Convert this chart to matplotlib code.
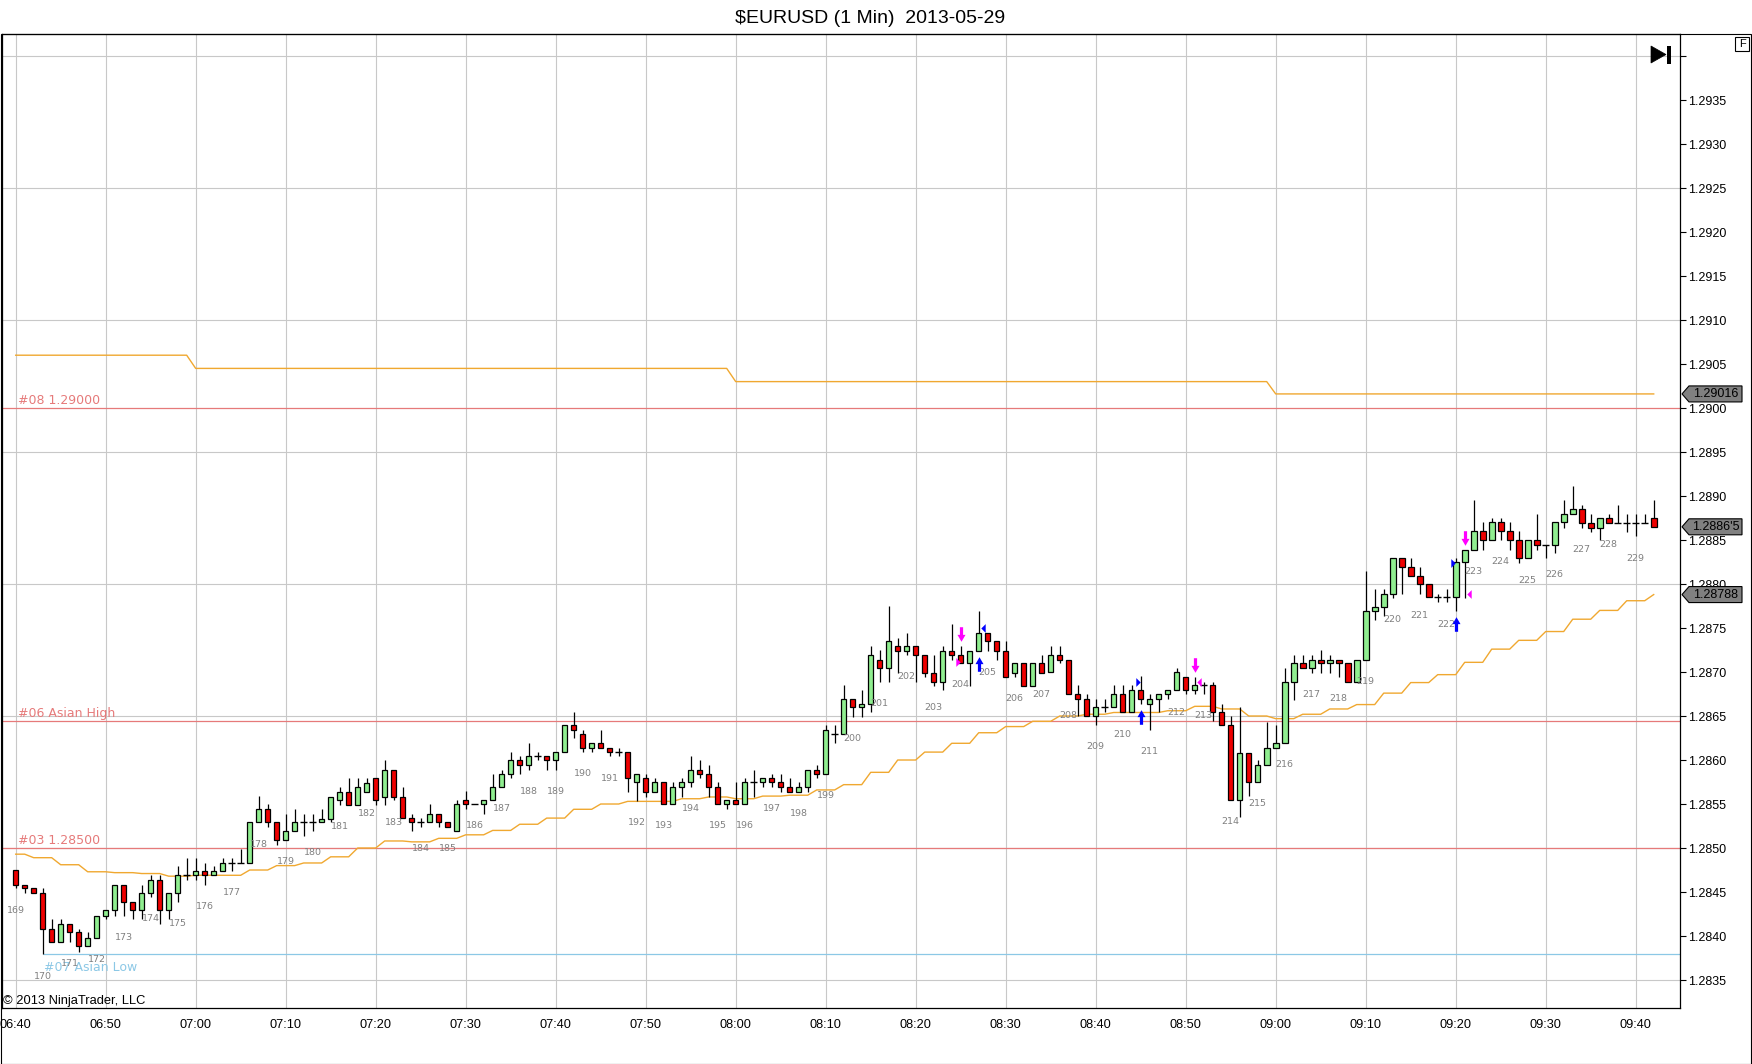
import numpy as np
import matplotlib
matplotlib.use("Agg")
import matplotlib.pyplot as plt
from matplotlib.path import Path
from matplotlib.patches import Polygon, Rectangle
import matplotlib.transforms as mtransforms

plt.rcParams['font.family'] = ['Liberation Sans', 'DejaVu Sans']

# ---------------- data ----------------
title = "$EURUSD (1 Min)  2013-05-29"

opens = [1.28475,1.28458,1.28454,1.28449,1.28408,1.28393,1.28414,1.28404,1.28389,1.28398,
 1.28423,1.28429,1.28458,1.28439,1.28429,1.28449,1.28464,1.28429,1.28449,1.28469,
 1.28469,1.28474,1.28469,1.28474,1.28483,1.28483,1.28483,1.28529,1.28544,1.28529,
 1.28509,1.28519,1.28529,1.28529,1.28529,1.28533,1.28554,1.28564,1.28549,1.28564,
 1.28579,1.28558,1.28589,1.28558,1.28534,1.28529,1.28529,1.28539,1.28529,1.28519,
 1.28555,1.28550,1.28550,1.28555,1.28569,1.28584,1.28600,1.28594,1.28604,1.28604,
 1.28600,1.28609,1.28640,1.28629,1.28614,1.28619,1.28614,1.28609,1.28609,1.28575,
 1.28579,1.28564,1.28575,1.28550,1.28569,1.28575,1.28589,1.28584,1.28569,1.28550,
 1.28555,1.28550,1.28575,1.28575,1.28579,1.28575,1.28569,1.28564,1.28569,1.28589,
 1.28584,1.28629,1.28629,1.28669,1.28660,1.28664,1.28714,1.28704,1.28730,1.28724,
 1.28730,1.28719,1.28699,1.28689,1.28724,1.28719,1.28710,1.28724,1.28744,1.28735,
 1.28724,1.28699,1.28710,1.28684,1.28710,1.28700,1.28719,1.28714,1.28675,1.28669,
 1.28650,1.28660,1.28660,1.28675,1.28654,1.28679,1.28664,1.28669,1.28675,1.28679,
 1.28694,1.28679,1.28685,1.28685,1.28655,1.28640,1.28555,1.28608,1.28575,1.28594,
 1.28614,1.28619,1.28689,1.28710,1.28704,1.28714,1.28710,1.28714,1.28710,1.28689,
 1.28714,1.28769,1.28774,1.28789,1.28829,1.28819,1.28809,1.28800,1.28785,1.28785,
 1.28785,1.28825,1.28839,1.28860,1.28850,1.28870,1.28860,1.28850,1.28829,1.28850,
 1.28844,1.28844,1.28870,1.28879,1.28885,1.28869,1.28864,1.28875,1.28869,1.28869,
 1.28869,1.28869,1.28875]

highs = [1.28475,1.28458,1.28454,1.28455,1.28419,1.28419,1.28414,1.28408,1.28404,1.28423,
 1.28429,1.28458,1.28458,1.28439,1.28458,1.28469,1.28469,1.28449,1.28479,1.28489,
 1.28489,1.28483,1.28479,1.28489,1.28489,1.28499,1.28529,1.28559,1.28550,1.28529,
 1.28539,1.28544,1.28539,1.28539,1.28544,1.28558,1.28569,1.28579,1.28579,1.28579,
 1.28579,1.28600,1.28589,1.28569,1.28539,1.28534,1.28550,1.28539,1.28529,1.28555,
 1.28565,1.28550,1.28555,1.28584,1.28589,1.28609,1.28605,1.28619,1.28609,1.28604,
 1.28609,1.28640,1.28654,1.28634,1.28619,1.28634,1.28614,1.28614,1.28609,1.28584,
 1.28584,1.28579,1.28575,1.28575,1.28579,1.28604,1.28600,1.28594,1.28575,1.28555,
 1.28575,1.28579,1.28589,1.28579,1.28584,1.28584,1.28579,1.28575,1.28589,1.28594,
 1.28640,1.28640,1.28685,1.28669,1.28680,1.28730,1.28725,1.28775,1.28739,1.28744,
 1.28730,1.28719,1.28719,1.28730,1.28755,1.28730,1.28724,1.28769,1.28744,1.28735,
 1.28735,1.28710,1.28710,1.28710,1.28719,1.28729,1.28729,1.28714,1.28685,1.28675,
 1.28669,1.28669,1.28685,1.28685,1.28685,1.28695,1.28675,1.28675,1.28679,1.28704,
 1.28694,1.28694,1.28689,1.28689,1.28664,1.28650,1.28660,1.28608,1.28600,1.28643,
 1.28640,1.28704,1.28719,1.28719,1.28719,1.28725,1.28719,1.28714,1.28710,1.28714,
 1.28815,1.28794,1.28794,1.28829,1.28829,1.28829,1.28819,1.28800,1.28789,1.28794,
 1.28829,1.28839,1.28895,1.28870,1.28875,1.28875,1.28870,1.28860,1.28850,1.28879,
 1.28844,1.28870,1.28895,1.28911,1.28890,1.28879,1.28875,1.28879,1.28890,1.28879,
 1.28879,1.28879,1.28895]

lows = [1.28454,1.28449,1.28449,1.28379,1.28393,1.28393,1.28393,1.28382,1.28389,1.28398,
 1.28419,1.28423,1.28423,1.28419,1.28419,1.28444,1.28414,1.28419,1.28439,1.28464,
 1.28464,1.28458,1.28469,1.28474,1.28474,1.28483,1.28483,1.28529,1.28524,1.28503,
 1.28509,1.28519,1.28514,1.28519,1.28529,1.28529,1.28549,1.28549,1.28549,1.28564,
 1.28549,1.28549,1.28554,1.28534,1.28519,1.28524,1.28529,1.28524,1.28524,1.28519,
 1.28544,1.28550,1.28539,1.28555,1.28569,1.28579,1.28584,1.28589,1.28600,1.28589,
 1.28589,1.28609,1.28625,1.28609,1.28609,1.28614,1.28604,1.28604,1.28564,1.28553,
 1.28558,1.28564,1.28550,1.28550,1.28558,1.28569,1.28579,1.28558,1.28550,1.28544,
 1.28550,1.28550,1.28558,1.28569,1.28569,1.28564,1.28564,1.28564,1.28564,1.28579,
 1.28584,1.28619,1.28629,1.28649,1.28649,1.28654,1.28689,1.28689,1.28699,1.28719,
 1.28689,1.28694,1.28684,1.28680,1.28714,1.28710,1.28684,1.28724,1.28724,1.28714,
 1.28694,1.28694,1.28684,1.28684,1.28699,1.28700,1.28710,1.28675,1.28650,1.28650,
 1.28640,1.28655,1.28660,1.28654,1.28654,1.28664,1.28634,1.28655,1.28669,1.28679,
 1.28675,1.28675,1.28675,1.28644,1.28640,1.28555,1.28535,1.28559,1.28575,1.28594,
 1.28614,1.28619,1.28668,1.28704,1.28699,1.28699,1.28699,1.28694,1.28689,1.28689,
 1.28714,1.28759,1.28764,1.28784,1.28789,1.28809,1.28789,1.28785,1.28779,1.28779,
 1.28769,1.28784,1.28839,1.28839,1.28850,1.28850,1.28839,1.28824,1.28829,1.28839,
 1.28829,1.28835,1.28864,1.28879,1.28864,1.28859,1.28850,1.28869,1.28869,1.28859,
 1.28854,1.28869,1.28865]

closes = [1.28458,1.28454,1.28449,1.28408,1.28393,1.28414,1.28404,1.28389,1.28398,1.28423,
 1.28429,1.28458,1.28439,1.28429,1.28449,1.28464,1.28429,1.28449,1.28469,1.28469,
 1.28474,1.28469,1.28474,1.28483,1.28483,1.28483,1.28529,1.28544,1.28529,1.28509,
 1.28519,1.28529,1.28529,1.28529,1.28533,1.28558,1.28564,1.28549,1.28569,1.28574,
 1.28554,1.28589,1.28558,1.28534,1.28529,1.28529,1.28539,1.28529,1.28524,1.28550,
 1.28550,1.28550,1.28555,1.28569,1.28584,1.28600,1.28594,1.28604,1.28604,1.28600,
 1.28609,1.28640,1.28634,1.28614,1.28619,1.28614,1.28609,1.28609,1.28579,1.28584,
 1.28564,1.28575,1.28550,1.28569,1.28575,1.28589,1.28584,1.28569,1.28550,1.28555,
 1.28550,1.28575,1.28575,1.28579,1.28575,1.28569,1.28564,1.28569,1.28589,1.28584,
 1.28634,1.28629,1.28669,1.28660,1.28664,1.28719,1.28704,1.28735,1.28724,1.28730,
 1.28719,1.28699,1.28689,1.28724,1.28719,1.28710,1.28724,1.28744,1.28735,1.28724,
 1.28694,1.28710,1.28684,1.28710,1.28699,1.28719,1.28714,1.28675,1.28669,1.28650,
 1.28660,1.28660,1.28675,1.28654,1.28679,1.28669,1.28669,1.28675,1.28679,1.28700,
 1.28679,1.28685,1.28685,1.28654,1.28640,1.28555,1.28608,1.28575,1.28594,1.28614,
 1.28619,1.28689,1.28710,1.28704,1.28714,1.28710,1.28714,1.28710,1.28689,1.28714,
 1.28769,1.28774,1.28789,1.28829,1.28819,1.28809,1.28800,1.28785,1.28785,1.28785,
 1.28825,1.28839,1.28860,1.28850,1.28870,1.28860,1.28850,1.28829,1.28850,1.28844,
 1.28844,1.28870,1.28879,1.28885,1.28869,1.28864,1.28875,1.28869,1.28869,1.28869,
 1.28869,1.28869,1.28865]

# lower trailing line: value per 3-bar block (first block 2 bars, last block 1 bar)
trail_low_blocks = [1.28493,
 1.28489,1.28481,1.28473,1.28472,1.28471,1.28468,1.28469,1.28469,1.28475,1.28480,
 1.28483,1.28490,1.28500,1.28508,1.28507,1.28511,1.28515,1.28520,1.28527,1.28534,
 1.28544,1.28550,1.28553,1.28553,1.28556,1.28558,1.28556,1.28559,1.28560,1.28566,
 1.28572,1.28586,1.28600,1.28609,1.28619,1.28631,1.28638,1.28644,1.28650,1.28652,
 1.28654,1.28654,1.28656,1.28661,1.28658,1.28650,1.28647,1.28652,1.28658,1.28663,
 1.28676,1.28688,1.28697,1.28711,1.28726,1.28736,1.28746,1.28760,1.28770,1.28781,
 1.28788]
trail_low_counts = [2] + [3] * 60 + [1]

# upper trailing line
trail_high_levels = [1.29060, 1.29045, 1.29030, 1.29016]
trail_high_counts = [20, 60, 60, 43]

# drawn horizontal levels
level_prices = [1.29000, 1.28644, 1.28500, 1.28380]
level_names = ["#08 1.29000", "#06 Asian High", "#03 1.28500", "#07 Asian Low"]
level_colors = ["#e67a7a", "#e67a7a", "#e67a7a", "#8cc8e6"]
level_start_bar = [None, None, None, 3]
level_text_below = [False, False, False, True]

# bar counter labels (every third bar)
counter_first = 169
counter_step = 3

# signal markers
sell_arrow_bars = [105, 131, 161]
buy_arrow_bars = [107, 125, 160]
blue_tri_bars = [107, 125, 160]
blue_tri_prices = [1.28750, 1.28689, 1.28824]
blue_tri_dirs = ['<', '>', '>']
mag_tri_bars = [105, 131, 161]
mag_tri_prices = [1.28711, 1.28689, 1.28789]
mag_tri_dirs = ['>', '<', '<']

time_labels = ["06:40", "06:50", "07:00", "07:10", "07:20", "07:30", "07:40", "07:50",
               "08:00", "08:10", "08:20", "08:30", "08:40", "08:50", "09:00", "09:10",
               "09:20", "09:30", "09:40"]
time_label_step = 10
price_ticks = [1.2835, 1.2840, 1.2845, 1.2850, 1.2855, 1.2860, 1.2865, 1.2870, 1.2875,
               1.2880, 1.2885, 1.2890, 1.2895, 1.2900, 1.2905, 1.2910, 1.2915, 1.2920,
               1.2925, 1.2930, 1.2935, 1.2940]
price_grid = [1.2835, 1.2850, 1.2865, 1.2880, 1.2895, 1.2910, 1.2925, 1.2940]

# ---------------- figure ----------------
W, H = 1752, 1064
fig = plt.figure(figsize=(W / 100, H / 100), dpi=100)
fig.patch.set_facecolor("white")
ax_l, ax_r, ax_t, ax_b = 2, 1680, 34, 1008
ax = fig.add_axes([ax_l / W, (H - ax_b) / H, (ax_r - ax_l) / W, (ax_b - ax_t) / H])

o = np.array(opens); h = np.array(highs); l = np.array(lows); c = np.array(closes)
x = np.arange(len(o))

ax.set_xlim(-1.52, 184.92)
ax.set_ylim(1.283182, 1.29425)

grid_col = "#c8c8c8"
tick_bars = [i * time_label_step for i in range(len(time_labels))]
for gx in tick_bars:
    ax.axvline(gx, color=grid_col, lw=0.8, zorder=0)
for gy in price_grid:
    ax.axhline(gy, color=grid_col, lw=0.8, zorder=0)

# levels
for p, name, col, sb, below in zip(level_prices, level_names, level_colors,
                                   level_start_bar, level_text_below):
    xs = ax.get_xlim()[0] if sb is None else sb
    ax.hlines(p, xs, ax.get_xlim()[1], color=col, lw=0.9, zorder=1)
    tr = mtransforms.offset_copy(
        mtransforms.blended_transform_factory(ax.transAxes, ax.transData),
        fig=fig, x=0, y=(-5 if below else 3), units='points')
    xt = 18 if sb is None else 44
    ax.text((xt - ax_l) / (ax_r - ax_l), p, name, transform=tr,
            ha='left', va=('top' if below else 'baseline'), color=col,
            fontsize=9, family='DejaVu Sans', zorder=2)

# trailing lines
trail_low = np.repeat(trail_low_blocks, trail_low_counts)
trail_high = np.repeat(trail_high_levels, trail_high_counts)
ax.plot(x, trail_low, color="#f0a830", lw=1.0, zorder=2)
ax.plot(x, trail_high, color="#f0a830", lw=1.0, zorder=2)

# candles
up = c > o + 1e-9
dn = c < o - 1e-9
dj = ~(up | dn)
ax.vlines(x, l, h, color="black", lw=0.9, zorder=3)
bw = 0.62
ax.bar(x[up], (c - o)[up], bottom=o[up], width=bw, color="#90ee90",
       edgecolor="black", lw=0.9, zorder=4)
ax.bar(x[dn], (o - c)[dn], bottom=c[dn], width=bw, color="#ee0000",
       edgecolor="black", lw=0.9, zorder=4)
ax.hlines(c[dj], x[dj] - 0.37, x[dj] + 0.37, color="black", lw=1.0, zorder=4)

# counter labels
for k, b in enumerate(range(0, len(x), counter_step)):
    ax.annotate(str(counter_first + k), (b, l[b]), xytext=(0, -15.5),
                textcoords='offset points', ha='center', va='center',
                fontsize=6.8, color="#808080", family='DejaVu Sans', zorder=5)

# arrows
down_path = Path([(-0.22, 1.0), (0.22, 1.0), (0.22, -0.05), (0.55, -0.05), (0.0, -1.0),
                  (-0.55, -0.05), (-0.22, -0.05), (-0.22, 1.0)], closed=True)
up_path = Path([(vx, -vy) for vx, vy in down_path.vertices], closed=True)
tr_dn = mtransforms.offset_copy(ax.transData, fig=fig, y=12, units='dots')
tr_up = mtransforms.offset_copy(ax.transData, fig=fig, y=-13, units='dots')
ax.scatter(sell_arrow_bars, h[sell_arrow_bars], marker=down_path, s=110,
           color="#ff00ff", transform=tr_dn, zorder=6, linewidths=0)
ax.scatter(buy_arrow_bars, l[buy_arrow_bars], marker=up_path, s=110,
           color="#0000ff", transform=tr_up, zorder=6, linewidths=0)

right_tri = Path([(-0.5, 1.0), (0.5, 0.0), (-0.5, -1.0), (-0.5, 1.0)], closed=True)
left_tri = Path([(0.5, 1.0), (-0.5, 0.0), (0.5, -1.0), (0.5, 1.0)], closed=True)
for bars, prices, dirs, col in [(blue_tri_bars, blue_tri_prices, blue_tri_dirs, "#0000ff"),
                                (mag_tri_bars, mag_tri_prices, mag_tri_dirs, "#ff00ff")]:
    for b, p, d in zip(bars, prices, dirs):
        dx = 4 if d == '<' else -3
        tr = mtransforms.offset_copy(ax.transData, fig=fig, x=dx, y=0, units='dots')
        ax.scatter([b], [p], marker=(left_tri if d == '<' else right_tri), s=40,
                   color=col, transform=tr, zorder=6, linewidths=0)

# axes styling
for s in ax.spines.values():
    s.set_color("black"); s.set_linewidth(0.9)
ax.yaxis.tick_right()
ax.set_yticks(price_ticks)
ax.set_yticklabels([("%.4f" % t if t < 1.29395 else "") for t in price_ticks])
ax.tick_params(axis='y', direction='out', length=4.3, width=0.8, pad=1.5,
               labelsize=9, colors='black')
ax.set_xticks(tick_bars)
ax.set_xticklabels(time_labels)
ax.tick_params(axis='x', length=0, pad=8, labelsize=9.2)

# price boxes on the axis
def price_box(p, text):
    yp = ax.transData.transform((0, p))[1]
    pts = [(1682, yp), (1689, yp + 8), (1742, yp + 8), (1742, yp - 8), (1689, yp - 8)]
    fig.patches.append(Polygon([(px / W, py / H) for px, py in pts], closed=True,
                               transform=fig.transFigure, fc="#808080", ec="black", lw=0.8))
    fig.text(1716 / W, yp / H, text, ha='center', va='center', fontsize=9, color='black')

price_box(trail_high[-1], "%.5f" % trail_high[-1])
s5 = "%.5f" % c[-1]
price_box(c[-1], s5[:-1] + "'" + s5[-1])
price_box(trail_low[-1], "%.5f" % trail_low[-1])

# title, copyright, decorations
fig.text(870 / W, 1 - 18.5 / H, title, ha='center', va='center', fontsize=14)
fig.text(3 / W, (H - 1004) / H, "\u00a9 2013 NinjaTrader, LLC", ha='left', va='baseline',
         fontsize=9.3)
# outer frame
fig.patches.append(Rectangle((0.5 / W, 0.5 / H), (W - 2.0) / W, (H - 34.5) / H,
                             transform=fig.transFigure, fill=False, ec='black', lw=0.8))
# "F" box
fig.patches.append(Rectangle((1735 / W, (H - 51) / H), 14 / W, 14 / H,
                             transform=fig.transFigure, fill=False, ec='black', lw=0.8))
fig.text(1742 / W, (H - 44) / H, "F", ha='center', va='center', fontsize=8)
# play-to-end icon
fig.patches.append(Polygon([(1651 / W, (H - 46) / H), (1651 / W, (H - 63) / H),
                            (1666 / W, (H - 54.5) / H)], closed=True,
                           transform=fig.transFigure, fc='black', ec='black', lw=0.5))
fig.patches.append(Rectangle((1667 / W, (H - 64) / H), 4 / W, 18 / H,
                             transform=fig.transFigure, fc='black', ec='none'))

fig.savefig("out.png", dpi=100)
